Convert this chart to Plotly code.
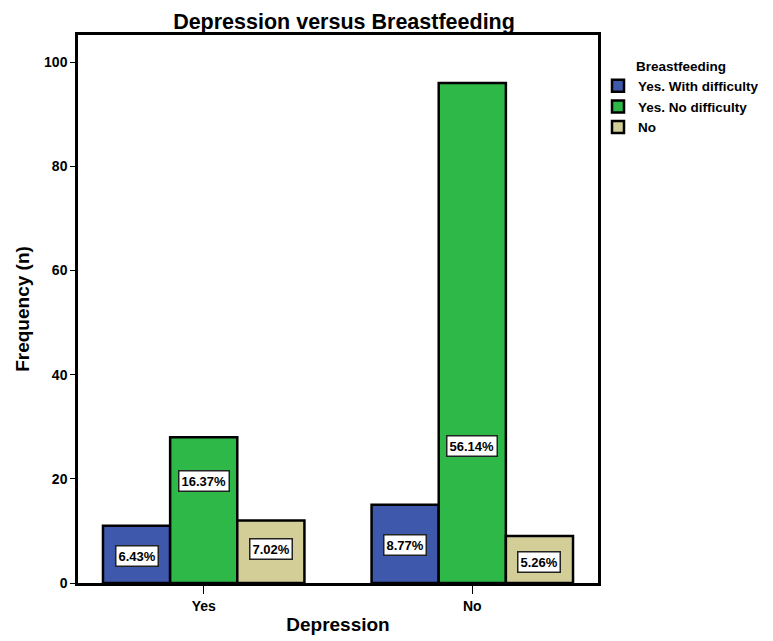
import plotly.graph_objects as go

categories = ["Yes", "No"]
series_names = ["Yes. With difficulty", "Yes. No difficulty", "No"]
values = {
    "Yes. With difficulty": [11, 15],
    "Yes. No difficulty": [28, 96],
    "No": [12, 9],
}
percent_labels = {
    "Yes. With difficulty": ["6.43%", "8.77%"],
    "Yes. No difficulty": ["16.37%", "56.14%"],
    "No": ["7.02%", "5.26%"],
}
# vertical anchor of each percentage box, in data units
label_y = {
    "Yes. With difficulty": [5.2, 7.3],
    "Yes. No difficulty": [19.6, 26.3],
    "No": [6.5, 4.0],
}
y_ticks = [0, 20, 40, 60, 80, 100]

colors = ["#3E58AC", "#2EB848", "#D3CE97"]
FONT = "Liberation Sans, Arial, sans-serif"
bar_w = 0.25
offsets = [-bar_w, 0, bar_w]

# the page body has an 8px default margin, so the figure is sized to fit the window
W, H = 765, 633
ML, MR, MT, MB = 70, 157, 27, 58

fig = go.Figure()
annotations = []
for i, name in enumerate(series_names):
    xs = [j + offsets[i] for j in range(len(categories))]
    fig.add_trace(go.Bar(
        x=xs, y=values[name], name=name, width=bar_w,
        marker=dict(color=colors[i], line=dict(color="black", width=2.5)),
        hoverinfo="skip",
    ))
    for j, x in enumerate(xs):
        annotations.append(dict(
            x=x, y=label_y[name][j], xref="x", yref="y",
            text=percent_labels[name][j], showarrow=False,
            font=dict(family=FONT, size=13, color="black", weight="bold"),
            bgcolor="white", bordercolor="#222", borderwidth=1.5, borderpad=2,
        ))

fig.update_layout(
    template="none",
    width=W, height=H,
    margin=dict(l=ML, r=MR, t=MT, b=MB),
    paper_bgcolor="white", plot_bgcolor="white",
    barmode="overlay",
    showlegend=True,
    title=dict(text="Depression versus Breastfeeding", x=336 / W, xanchor="center",
               xref="container", y=1 - 13 / H, yanchor="middle",
               font=dict(family=FONT, size=21.5, color="black", weight="bold")),
    legend=dict(
        title=dict(text="Breastfeeding", side="top center",
                   font=dict(family=FONT, size=13.5, color="black", weight="bold")),
        font=dict(family=FONT, size=13.5, color="black", weight="bold"),
        xref="container", yref="container",
        x=590 / W, y=1 - 45 / H, xanchor="left", yanchor="top",
        tracegroupgap=0, itemwidth=30, bgcolor="rgba(0,0,0,0)", borderwidth=0,
    ),
    annotations=annotations,
)
fig.update_xaxes(
    automargin=False,
    tickmode="array", tickvals=list(range(len(categories))), ticktext=categories,
    range=[-0.468, 1.468], showgrid=False, zeroline=False,
    showline=True, linecolor="black", linewidth=2.5, mirror=True,
    ticks="outside", ticklen=8, tickcolor="black", tickwidth=1,
    tickfont=dict(family=FONT, size=14, color="black", weight="bold"),
    title=dict(text="Depression", standoff=6,
               font=dict(family=FONT, size=19, color="black", weight="bold")),
)
fig.update_yaxes(
    automargin=False,
    tickmode="array", tickvals=y_ticks, range=[0, 105.2],
    showgrid=False, zeroline=False,
    showline=True, linecolor="black", linewidth=2.5, mirror=True,
    ticks="outside", ticklen=5, tickcolor="black", tickwidth=1,
    tickfont=dict(family=FONT, size=14, color="black", weight="bold"),
    title=dict(text="Frequency (n)", standoff=10,
               font=dict(family=FONT, size=19, color="black", weight="bold")),
)
fig.write_html("out.html")
